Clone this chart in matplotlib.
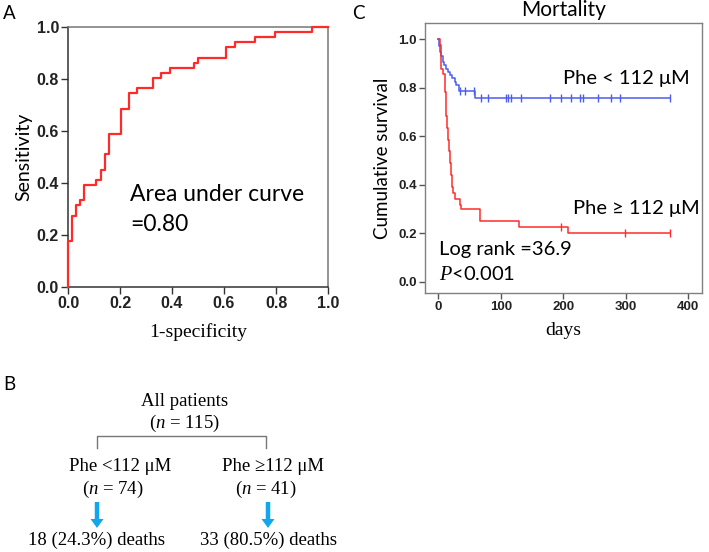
import numpy as np
import matplotlib
matplotlib.use("Agg")
import matplotlib.pyplot as plt
from matplotlib.patches import FancyArrow

# ---------------- data ----------------
# Panel A: ROC curve breakpoints (1-specificity, sensitivity)
roc_fpr = [0.0, 0.0, 0.016, 0.031, 0.047, 0.0625, 0.109, 0.125, 0.141, 0.156,
           0.203, 0.234, 0.266, 0.328, 0.359, 0.391, 0.469, 0.484, 0.5, 0.609,
           0.641, 0.719, 0.797, 0.922, 0.9375, 1.0]
roc_tpr = [0.0, 0.176, 0.275, 0.314, 0.333, 0.392, 0.412, 0.451, 0.510, 0.588,
           0.686, 0.745, 0.765, 0.804, 0.824, 0.843, 0.843, 0.863, 0.882, 0.922,
           0.941, 0.961, 0.980, 0.980, 1.0, 1.0]
roc_ticks = [0.0, 0.2, 0.4, 0.6, 0.8, 1.0]

# Panel C: Kaplan-Meier curves (days, cumulative survival)
low_t = [0, 1, 2, 3, 5, 7, 9, 12, 15, 18, 22, 26, 29, 33, 59, 371]
low_s = [1.0, 0.973, 0.959, 0.946, 0.932, 0.905, 0.892, 0.878, 0.865, 0.851,
         0.838, 0.824, 0.811, 0.784, 0.757, 0.757]
low_cens = [35, 43, 57, 69, 80, 109, 112, 116, 133, 179, 197, 213, 227, 232,
            256, 276, 291, 371]

high_t = [0, 2, 4, 5, 7, 10, 12, 13, 14, 15, 17, 19, 20, 22, 24, 27, 34, 37,
          66, 129, 207, 371]
high_s = [1.0, 0.976, 0.927, 0.878, 0.854, 0.780, 0.732, 0.683, 0.634, 0.585,
          0.537, 0.488, 0.439, 0.390, 0.366, 0.341, 0.317, 0.298, 0.249, 0.224,
          0.199, 0.199]
high_cens = [197, 299, 371]

km_yticks = [0.0, 0.2, 0.4, 0.6, 0.8, 1.0]
km_xticks = [0, 100, 200, 300, 400]
label_low = "Phe < 112 \u03bcM"
label_high = "Phe \u2265 112 \u03bcM"

# Panel B: flow chart text
all_label = ["All patients", "($n$ = 115)"]
left_label = ["Phe <112 \u03bcM", "($n$ = 74)", "18 (24.3%) deaths"]
right_label = ["Phe \u2265112 \u03bcM", "($n$ = 41)", "33 (80.5%) deaths"]

# ---------------- styling ----------------
W, H = 709, 552
RED = "#ff2b2b"
BLUE = "#4d5cf0"
ARROW = "#12a6ee"
SANS = ["Lato", "DejaVu Sans"]
SERIF = ["Liberation Serif", "DejaVu Serif"]
plt.rcParams["mathtext.fontset"] = "custom"
plt.rcParams["mathtext.it"] = "Liberation Serif:italic"
plt.rcParams["mathtext.rm"] = "Liberation Serif"

fig = plt.figure(figsize=(W / 100, H / 100), dpi=100)


def rect(x0, y0, x1, y1):
    return [x0 / W, 1 - y1 / H, (x1 - x0) / W, (y1 - y0) / H]


# ---------------- Panel A ----------------
axA = fig.add_axes(rect(68, 27, 328, 287))
axA.step(roc_fpr, roc_tpr, where="post", color=RED, lw=1.6, clip_on=False, zorder=3)
axA.set_xlim(0, 1)
axA.set_ylim(0, 1)
axA.set_xticks(roc_ticks)
axA.set_yticks(roc_ticks)
axA.set_xticklabels([f"{v:.1f}" for v in roc_ticks], fontfamily="Liberation Sans",
                    fontweight="bold", fontsize=11.5, color="#222222")
axA.set_yticklabels([f"{v:.1f}" for v in roc_ticks], fontfamily="Liberation Sans",
                    fontweight="bold", fontsize=11.5, color="#222222")
axA.tick_params(direction="out", length=5, width=1, color="#333333", pad=1.5)
for s in ["left", "bottom"]:
    axA.spines[s].set_color("#333333")
    axA.spines[s].set_linewidth(1.1)
for s in ["top", "right"]:
    axA.spines[s].set_color("#777777")
    axA.spines[s].set_linewidth(1.1)
axA.set_ylabel("Sensitivity", fontfamily=SANS, fontsize=14, labelpad=3)
axA.set_xlabel("1-specificity", fontfamily=SERIF, fontsize=14, labelpad=9)
axA.text(0.24, 0.33, "Area under curve", fontfamily=SANS, fontsize=16.5,
         transform=axA.transAxes, va="baseline")
axA.text(0.24, 0.215, "=0.80", fontfamily=SANS, fontsize=16.5,
         transform=axA.transAxes, va="baseline")

# ---------------- Panel C ----------------
axC = fig.add_axes(rect(425, 23, 702, 293))
axC.step(low_t, low_s, where="post", color=BLUE, lw=1.1, zorder=3)
axC.step(high_t, high_s, where="post", color=RED, lw=1.1, zorder=3)


def surv_at(ts, ss, t):
    i = np.searchsorted(ts, t, side="right") - 1
    return ss[i]


axC.plot(low_cens, [surv_at(low_t, low_s, t) for t in low_cens], ls="none",
         marker="|", ms=6, mew=1.0, color=BLUE, zorder=4)
axC.plot(high_cens, [surv_at(high_t, high_s, t) for t in high_cens], ls="none",
         marker="|", ms=6, mew=1.0, color=RED, zorder=4)
axC.set_xlim(-21.3, 421.9)
axC.set_ylim(-0.047, 1.066)
axC.set_xticks(km_xticks)
axC.set_yticks(km_yticks)
tick_font = ["Liberation Sans Narrow", "Liberation Sans"]
axC.set_xticklabels([str(v) for v in km_xticks], fontfamily=tick_font,
                    fontsize=9.5, fontweight="bold", color="#222222")
axC.set_yticklabels([f"{v:.1f}" for v in km_yticks], fontfamily=tick_font,
                    fontsize=9.5, fontweight="bold", color="#222222")
axC.tick_params(direction="out", length=4, width=1, color="#555555", pad=2)
for s in axC.spines.values():
    s.set_color("#808080")
    s.set_linewidth(1.0)
axC.set_ylabel("Cumulative survival", fontfamily=SANS, fontsize=13.5, labelpad=5)
axC.set_xlabel("days", fontfamily=SERIF, fontsize=14, labelpad=6)
axC.set_title("Mortality", fontfamily=SANS, fontsize=15, pad=5)
axC.text(199, 0.815, label_low, fontfamily=SANS, fontsize=14.5, va="baseline")
axC.text(216, 0.28, label_high, fontfamily=SANS, fontsize=14.5, va="baseline")
axC.text(1, 0.11, "Log rank =36.9", fontfamily=SANS, fontsize=14.5, va="baseline")
axC.text(1, 0.005, "$\\mathit{P}$<0.001", fontfamily=SANS, fontsize=14.5, va="baseline")

# ---------------- overlay (panel letters + Panel B) ----------------
ov = fig.add_axes([0, 0, 1, 1], zorder=-1)
ov.set_xlim(0, W)
ov.set_ylim(H, 0)
ov.axis("off")
for letter, x, y in [("A", 3, 19), ("C", 352, 19), ("B", 3, 390)]:
    ov.text(x, y, letter, fontfamily=SANS, fontsize=13.5, va="baseline")

ov.text(185, 406, all_label[0], fontfamily=SERIF, fontsize=13.5, ha="center", va="baseline")
ov.text(185, 428, all_label[1], fontfamily=SERIF, fontsize=13.5, ha="center", va="baseline")
ov.plot([97, 97, 266, 266], [448, 436, 436, 448], color="#777777", lw=1.0)

for cx, lab, ax_x, dx in [(120, left_label, 97, 96), (273, right_label, 268, 268)]:
    ov.text(cx, 471, lab[0], fontfamily=SERIF, fontsize=13.5, ha="center", va="baseline")
    ov.text(cx - 7, 494, lab[1], fontfamily=SERIF, fontsize=13.5, ha="center", va="baseline")
    ov.add_patch(FancyArrow(ax_x, 502, 0, 26, width=4.5, head_width=13,
                            head_length=9, length_includes_head=True,
                            color=ARROW, lw=0))
    ov.text(dx, 545, lab[2], fontfamily=SERIF, fontsize=13.5, ha="center", va="baseline")

fig.savefig("out.png", dpi=100)
